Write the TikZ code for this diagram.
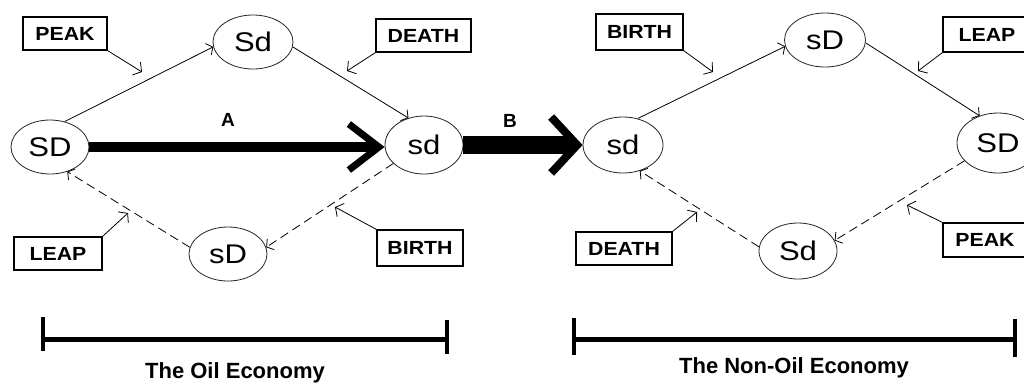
\documentclass[tikz,border=0pt]{standalone}
\usepackage{fontspec}
\setmainfont{Liberation Sans}
\usetikzlibrary{shapes.geometric,arrows.meta}
\newcommand\widetxt[1]{\scalebox{1.15}[1]{#1}}
\newcommand\tagtxt[1]{\scalebox{1.12}[1]{#1}}
\tikzset{
  state/.style={ellipse, draw=black!85, line width=0.8pt, inner sep=0pt,
    minimum width=78pt, minimum height=54pt, font=\fontsize{27}{27}\selectfont},
  tagbox/.style={rectangle, draw, line width=1.1pt, inner sep=0pt,
    minimum height=33pt, font=\bfseries\fontsize{19}{19}\selectfont},
  edgeline/.style={line width=0.8pt, -{Straight Barb[length=5pt,width=13pt]}},
  dashedge/.style={edgeline, dash pattern=on 9pt off 5pt},
  leader/.style={line width=0.8pt, -{Straight Barb[length=6pt,width=15pt]}},
  biglabel/.style={font=\bfseries\fontsize{19}{19}\selectfont},
  foot/.style={anchor=base, font=\bfseries\fontsize{22}{22}\selectfont},
}
\begin{document}
\begin{tikzpicture}[x=1pt,y=-1pt]
\useasboundingbox (0,0) rectangle (1024,384);
\fill[white] (0,0) rectangle (1024,384);

% ---- Oil economy states
\node[state] (SDa) at (50,147) {\widetxt{SD}};
\node[state, minimum width=80pt] (Sda) at (253,42) {\widetxt{Sd}};
\node[state, minimum height=58pt] (sda) at (424,145) {\widetxt{sd}};
\node[state] (sDa) at (228,254) {\widetxt{sD}};

% ---- Non-oil economy states
\node[state, minimum width=80pt, minimum height=56pt] (sdb) at (623,145) {\widetxt{sd}};
\node[state, minimum width=81pt] (sDb) at (825,40) {\widetxt{sD}};
\node[state, minimum width=82pt, minimum height=60pt] (SDb) at (998,143) {\widetxt{SD}};
\node[state, minimum height=56pt] (Sdb) at (798,251) {\widetxt{Sd}};

% ---- tags
\node[tagbox, minimum width=84pt] (peakA) at (65,33.5) {\tagtxt{PEAK}};
\node[tagbox, minimum width=95pt] (deathA) at (423.5,35.5) {\tagtxt{DEATH}};
\node[tagbox, minimum width=88pt] (leapA) at (58,253.5) {\tagtxt{LEAP}};
\node[tagbox, minimum width=86pt, minimum height=36pt] (birthA) at (420,248) {\tagtxt{BIRTH}};
\node[tagbox, minimum width=87pt, minimum height=36pt] (birthB) at (639.5,32) {\tagtxt{BIRTH}};
\node[tagbox, minimum width=88pt, minimum height=35pt] (leapB) at (987,34.5) {\tagtxt{LEAP}};
\node[tagbox, minimum width=96pt] (deathB) at (624,248.5) {\tagtxt{DEATH}};
\node[tagbox, minimum width=84pt, minimum height=34pt] (peakB) at (985,240) {\tagtxt{PEAK}};

% ---- cycle edges
\draw[edgeline] (SDa.60) -- (Sda.187);
\draw[edgeline] (Sda.353) -- (sda.120);
\draw[dashedge] (sda.211) -- (sDa.10);
\draw[dashedge] (sDa.170) -- (SDa.305);

\draw[edgeline] (sdb.61) -- (sDb.189);
\draw[edgeline] (sDb.356) -- (SDb.124);
\draw[dashedge] (SDb.208) -- (Sdb.16);
\draw[dashedge] (Sdb.174) -- (sdb.303);

% ---- leaders
\coordinate (pA) at (142,72);
\coordinate (dA) at (347,71);
\coordinate (lA) at (128,213);
\coordinate (bA) at (335,207);
\coordinate (bB) at (713,72);
\coordinate (lB) at (918,71);
\coordinate (dB) at (697,212);
\coordinate (pB) at (907,205);
\draw[leader] (peakA.south east) -- (pA);
\draw[leader] (deathA.south west) -- (dA);
\draw[leader] (leapA.north east) -- (lA);
\draw[leader] (birthA.north west) -- (bA);
\draw[leader] (birthB.south east) -- (bB);
\draw[leader] (leapB.south west) -- (lB);
\draw[leader] (deathB.north east) -- (dB);
\draw[leader] (peakB.north west) -- (pB);

% ---- big arrows
\draw[line width=10pt, -{Straight Barb[length=30pt,width=46pt,line width=7pt]}]
  (SDa.east) -- (SDa.east -| sda.west);
\draw[line width=18pt, -{Straight Barb[length=26pt,width=56pt,line width=8pt]}]
  (sda.east) -- (sdb.west);
\node[biglabel] (labA) at (228,120) {A};
\node[biglabel] (labB) at (510,121) {B};

% ---- economy bars
\coordinate (oL) at (43,339);
\coordinate (oR) at (447,339);
\coordinate (nL) at (574,339);
\coordinate (nR) at (1015,339);
\draw[line width=5pt] (oL) -- (oR);
\draw[line width=4pt] (43,317) -- (43,351);
\draw[line width=4pt] (447,320) -- (447,354);
\draw[line width=5pt] (nL) -- (nR);
\draw[line width=4pt] (574,318) -- (574,355);
\draw[line width=4pt] (1015,319) -- (1015,357);
\node[foot] (oil) at (235,378) {The Oil Economy};
\node[foot] (nonoil) at (794,373) {The Non-Oil Economy};
\end{tikzpicture}
\end{document}
